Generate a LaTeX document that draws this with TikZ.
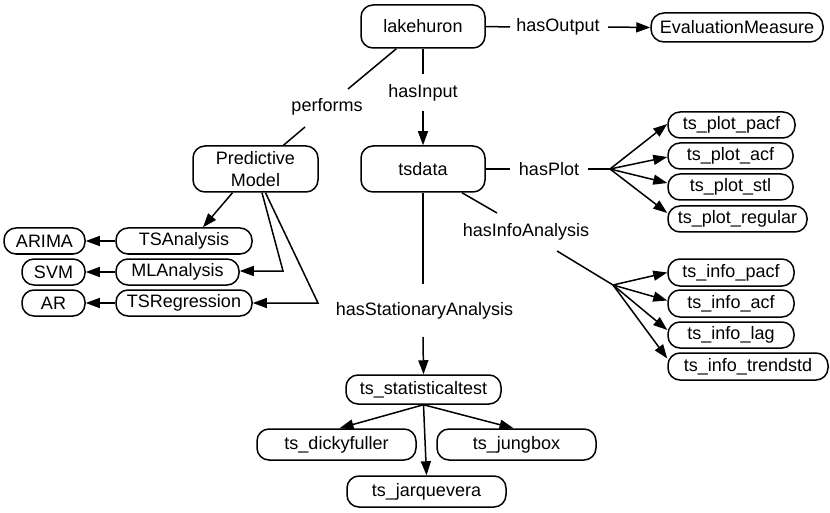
\documentclass[tikz,border=0pt]{standalone}
\usepackage{fontspec}
\setmainfont{Liberation Sans}
\usetikzlibrary{arrows.meta,calc}
\tikzset{
  box/.style={draw, line width=1.5pt, rounded corners=12pt, inner sep=0pt, align=center},
  lbl/.style={inner sep=0pt},
  arr/.style={-{Triangle[length=14pt,width=10pt]}},
  every path/.style={line width=1.5pt},
}
\begin{document}
\begin{tikzpicture}[x=1pt,y=-1pt,font=\fontsize{18}{21.6}\selectfont]
\useasboundingbox (0,0) rectangle (830,513);
% nodes
\node[box,minimum width=124pt,minimum height=43pt] (lake) at (423,26.5) {lakehuron};
\node[box,minimum width=172pt,minimum height=29pt,rounded corners=13pt] (eval) at (737,27.5) {EvaluationMeasure};
\node[box,minimum width=125pt,minimum height=46pt] (pm) at (255.5,169) {Predictive\\Model};
\node[box,minimum width=124pt,minimum height=46pt] (tsdata) at (423,169) {tsdata};
\node[box,minimum width=127pt,minimum height=26pt] (plotpacf) at (731.5,125) {ts\_plot\_pacf};
\node[box,minimum width=125pt,minimum height=26pt] (plotacf) at (730.5,156) {ts\_plot\_acf};
\node[box,minimum width=125pt,minimum height=26pt] (plotstl) at (730.5,187) {ts\_plot\_stl};
\node[box,minimum width=139pt,minimum height=26pt] (plotreg) at (737.5,219) {ts\_plot\_regular};
\node[box,minimum width=126pt,minimum height=27pt] (infopacf) at (731,272.5) {ts\_info\_pacf};
\node[box,minimum width=126pt,minimum height=27pt] (infoacf) at (731,303.5) {ts\_info\_acf};
\node[box,minimum width=126pt,minimum height=26pt] (infolag) at (731,335) {ts\_info\_lag};
\node[box,minimum width=160pt,minimum height=27pt] (infotrend) at (748,366.5) {ts\_info\_trendstd};
\node[box,minimum width=155pt,minimum height=29pt] (stat) at (423.5,389.5) {ts\_statisticaltest};
\node[box,minimum width=159pt,minimum height=31pt] (dicky) at (336.5,444.5) {ts\_dickyfuller};
\node[box,minimum width=159pt,minimum height=31pt] (jung) at (516.5,444.5) {ts\_jungbox};
\node[box,minimum width=159pt,minimum height=31pt] (jarq) at (426.5,491.5) {ts\_jarquevera};
\node[box,minimum width=136pt,minimum height=26pt] (tsa) at (184,241) {TSAnalysis};
\node[box,minimum width=123pt,minimum height=26pt] (mla) at (177.5,272) {MLAnalysis};
\node[box,minimum width=136pt,minimum height=26pt] (tsr) at (184,303) {TSRegression};
\node[box,minimum width=81pt,minimum height=26pt] (arima) at (44.5,241) {ARIMA};
\node[box,minimum width=63pt,minimum height=26pt] (svm) at (53.5,272) {SVM};
\node[box,minimum width=63pt,minimum height=26pt] (ar) at (53.5,303) {AR};
% labels
\node[lbl] (lOut) at (558,27) {hasOutput};
\node[lbl] (lPerf) at (327,107) {performs};
\node[lbl] (lIn) at (423,93) {hasInput};
\node[lbl] (lPlot) at (549,169) {hasPlot};
\node[lbl] (lInfo) at (526,232) {hasInfoAnalysis};
\node[lbl] (lStat) at (424.5,311) {hasStationaryAnalysis};
% coordinates
\coordinate (o1) at (510,27);
\coordinate (o2) at (608,27);
\coordinate (p1) at (348,89);
\coordinate (p2) at (305,127);
\coordinate (i1) at (423,74);
\coordinate (i2) at (423,111);
\coordinate (h1) at (510,169);
\coordinate (h2) at (588,169);
\coordinate (fanP) at (610,169);
\coordinate (n1) at (497,213);
\coordinate (n2) at (557,251);
\coordinate (fanI) at (613,285);
\coordinate (s1) at (423,284);
\coordinate (s2) at (423,337);
\coordinate (mlb) at (283,271);
\coordinate (trb) at (318,303);
% edges
\draw (lake.east) -- (o1);
\draw[arr] (o2) -- (eval.west);
\draw (lake) -- (p1);
\draw (p2) -- (pm);
\draw (lake.south) -- (i1);
\draw[arr] (i2) -- (tsdata.north);
\draw (tsdata.east) -- (h1);
\draw (h2) -- (fanP);
\draw[arr] (fanP) -- ($(plotpacf.west)+(0,-1)$);
\draw[arr] (fanP) -- ($(plotacf.west)+(0,1)$);
\draw[arr] (fanP) -- ($(plotstl.west)+(0,-4)$);
\draw[arr] (fanP) -- ($(plotreg.west)+(0,-6)$);
\draw ($(tsdata.south)+(39,0)$) -- (n1);
\draw (n2) -- (fanI);
\draw[arr] (fanI) -- ($(infopacf.west)+(0,0)$);
\draw[arr] (fanI) -- ($(infoacf.west)+(0,-3)$);
\draw[arr] (fanI) -- ($(infolag.west)+(0,-5)$);
\draw[arr] (fanI) -- ($(infotrend.west)+(0,-8)$);
\draw (tsdata.south) -- (s1);
\draw[arr] (s2) -- (stat.north);
\draw[arr] (stat.south) -- ($(dicky.north)+(3,0)$);
\draw[arr] (stat.south) -- ($(jung.north)+(-3,0)$);
\draw[arr] (stat.south) -- (jarq.north);
\draw[arr] ($(pm.south)+(-23,0)$) -- ($(tsa.north)+(19,0)$);
\draw[arr] ($(pm.south)+(6.5,0)$) -- (mlb) -- ($(mla.east)+(0,-1)$);
\draw[arr] ($(pm.south)+(10,0)$) -- (trb) -- (tsr.east);
\draw[arr] (tsa.west) -- (arima.east);
\draw[arr] (mla.west) -- (svm.east);
\draw[arr] (tsr.west) -- (ar.east);
\end{tikzpicture}
\end{document}
